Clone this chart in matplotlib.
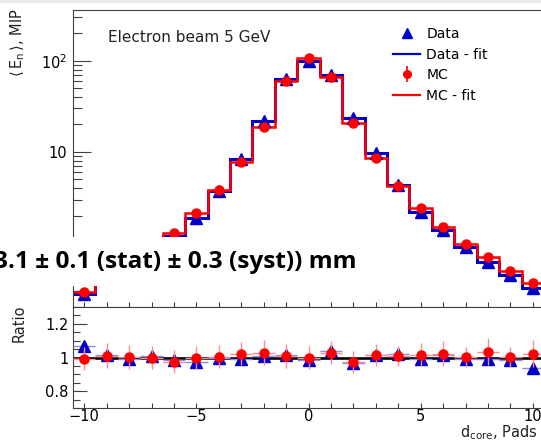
import numpy as np
import matplotlib
matplotlib.use('Agg')
import matplotlib.pyplot as plt
from matplotlib.lines import Line2D
from matplotlib.patches import Rectangle
from matplotlib.ticker import FixedLocator, FixedFormatter, MultipleLocator, LogLocator, NullFormatter

plt.rcParams['font.family'] = ['DejaVu Sans']
plt.rcParams['mathtext.fontset'] = 'dejavusans'

#---data
pads = np.arange(-10, 11)
edges = np.arange(-10.5, 11.5, 1.0)

#mean energy per pad (MIP), data and MC
data_en = [0.28, 0.42, 0.60, 0.85, 1.20, 1.90, 3.75, 8.3, 21.9, 62.5, 98.0,
           70.0, 23.6, 9.7, 4.35, 2.22, 1.40, 0.90, 0.63, 0.45, 0.32]
mc_en = [0.295, 0.41, 0.60, 0.84, 1.29, 2.13, 3.80, 7.7, 18.9, 60.0, 108.0,
         67.0, 21.0, 8.5, 4.25, 2.42, 1.52, 0.98, 0.71, 0.50, 0.37]

#ratio panel
ratio_data = [1.07, 1.017, 0.994, 1.01, 0.985, 0.975, 0.995, 0.994, 1.01, 1.017, 0.985,
              1.037, 0.965, 1.017, 1.023, 0.994, 1.017, 0.99, 0.994, 0.985, 0.94]
ratio_mc = [0.994, 1.01, 1.004, 1.0, 0.975, 1.0, 1.005, 1.023, 1.029, 1.01, 1.0,
            1.029, 0.975, 1.013, 1.01, 1.017, 1.023, 1.004, 1.033, 1.004, 1.023]
err_mc = [0.07, 0.075, 0.07, 0.07, 0.07, 0.07, 0.07, 0.07, 0.075, 0.07, 0.07,
          0.07, 0.065, 0.065, 0.06, 0.07, 0.075, 0.06, 0.08, 0.06, 0.08]
err_data = [0.02] * 21

ytick_vals = [10, 100]
ytick_labels = ['10', '$10^{2}$']
rtick_vals = [0.8, 1.0, 1.2]
rtick_labels = ['0.8', '1', '1.2']
xtick_vals = [-10, -5, 0, 5, 10]
xtick_labels = ['\u221210', '\u22125', '0', '5', '10']

blue = '#0000c8'
red = '#ff0000'
axcol = '#404040'

W, H = 541, 444
fig = plt.figure(figsize=(W / 100, H / 100), dpi=100)

def px(x0, y0, x1, y1):
    return [x0 / W, 1 - y1 / H, (x1 - x0) / W, (y1 - y0) / H]

ax = fig.add_axes(px(73, 10, 544, 307))
rx = fig.add_axes(px(73, 307, 544, 408))

#---upper panel
ax.stairs(data_en, edges, color=blue, lw=2.2, baseline=None, zorder=2)
ax.stairs(mc_en, edges, color=red, lw=1.8, baseline=None, zorder=3)
ax.plot(pads, data_en, ls='none', marker='^', color=blue, ms=8, zorder=4)
ax.plot(pads, mc_en, ls='none', marker='o', color=red, ms=6.5, zorder=5)
ax.set_yscale('log')
ax.set_xlim(-10.5, 10.5)
ax.set_ylim(0.2, 359)
ax.yaxis.set_major_locator(FixedLocator(ytick_vals))
ax.yaxis.set_major_formatter(FixedFormatter(ytick_labels))
ax.yaxis.set_minor_locator(LogLocator(subs=np.arange(2, 10)))
ax.yaxis.set_minor_formatter(NullFormatter())
ax.xaxis.set_major_locator(MultipleLocator(1))
ax.tick_params(axis='y', which='major', direction='in', length=13, width=0.8, pad=4,
               labelsize=10.5, color=axcol)
ax.tick_params(axis='y', which='minor', direction='in', length=6.5, width=0.8, color=axcol)
ax.tick_params(axis='x', which='both', direction='in', length=3.5, width=0.8,
               labelbottom=False, color=axcol)
for s in ax.spines.values():
    s.set_color(axcol)
    s.set_linewidth(0.8)

fig.text(108 / W, 1 - 37 / H, 'Electron beam 5 GeV', fontsize=11,
         va='center', ha='left', color='#222222')

mc_handle = (Line2D([], [], ls='none', marker='|', color=red, ms=11, mew=1.2),
             Line2D([], [], ls='none', marker='o', color=red, ms=5.5))
handles = [Line2D([], [], ls='none', marker='^', color=blue, ms=7),
           Line2D([], [], color=blue, lw=1.6),
           mc_handle,
           Line2D([], [], color=red, lw=1.6)]
fig.legend(handles, ['Data', 'Data - fit', 'MC', 'MC - fit'],
           loc='upper left', bbox_to_anchor=(393 / W, 1 - 27 / H),
           frameon=False, fontsize=10, borderpad=0, borderaxespad=0,
           handlelength=1.95, handletextpad=0.45, labelspacing=0.48)

fig.text(18 / W, 1 - 8 / H, r'$\langle\,\mathrm{E}_{\mathrm{n}}\,\rangle$, MIP',
         rotation=90, ha='center', va='top', fontsize=10.5, color='#222222')

#---ratio panel
rx.axhline(1.0, color='black', lw=1.9, zorder=1)
rx.errorbar(pads, ratio_data, xerr=0.5, yerr=err_data, ls='none', marker='^',
            color=blue, ms=8, ecolor='#8c8cf0', elinewidth=1.0, zorder=3)
rx.errorbar(pads, ratio_mc, xerr=0.5, yerr=err_mc, ls='none', marker='o',
            color=red, ms=6.5, ecolor='#ff8c8c', elinewidth=1.0, zorder=4)
rx.set_xlim(-10.5, 10.5)
rx.set_ylim(0.7, 1.3)
rx.yaxis.set_major_locator(FixedLocator(rtick_vals))
rx.yaxis.set_major_formatter(FixedFormatter(rtick_labels))
rx.yaxis.set_minor_locator(MultipleLocator(0.05))
rx.xaxis.set_major_locator(FixedLocator(xtick_vals))
rx.xaxis.set_major_formatter(FixedFormatter(xtick_labels))
rx.xaxis.set_minor_locator(MultipleLocator(1))
rx.tick_params(axis='y', which='major', direction='in', length=10, width=0.8, pad=3,
               labelsize=10.5, color=axcol)
rx.tick_params(axis='y', which='minor', direction='in', length=5, width=0.8, color=axcol)
rx.tick_params(axis='x', which='both', direction='in', length=3.5, width=0.8, pad=1,
               labelsize=10.5, color=axcol)
for s in rx.spines.values():
    s.set_color(axcol)
    s.set_linewidth(0.8)

fig.text(19 / W, 1 - 305 / H, 'Ratio', rotation=90, ha='center', va='top',
         fontsize=10.5, color='#222222')
fig.text(538 / W, 1 - 433 / H, r'd$_{\mathrm{core}}$, Pads', ha='right', va='center',
         fontsize=10.5, color='#222222')

#---slide overlay: white box with the result text on top of the plot
fig.add_artist(Rectangle((0, 1 - 286 / H), 405 / W, 49 / H, transform=fig.transFigure,
                         facecolor='white', edgecolor='none', zorder=10))
fig.text(-6 / W, 1 - 262 / H, '3.1 \u00b1 0.1 (stat) \u00b1 0.3 (syst)) mm',
         fontfamily='Open Sans', fontweight='bold', fontsize=17.6, ha='left', va='center',
         color='black', zorder=11)
fig.add_artist(Rectangle((0, 1 - 3 / H), 1, 3 / H, transform=fig.transFigure,
                         facecolor='#ececec', edgecolor='none', zorder=10))

fig.savefig('out.png', dpi=100)
